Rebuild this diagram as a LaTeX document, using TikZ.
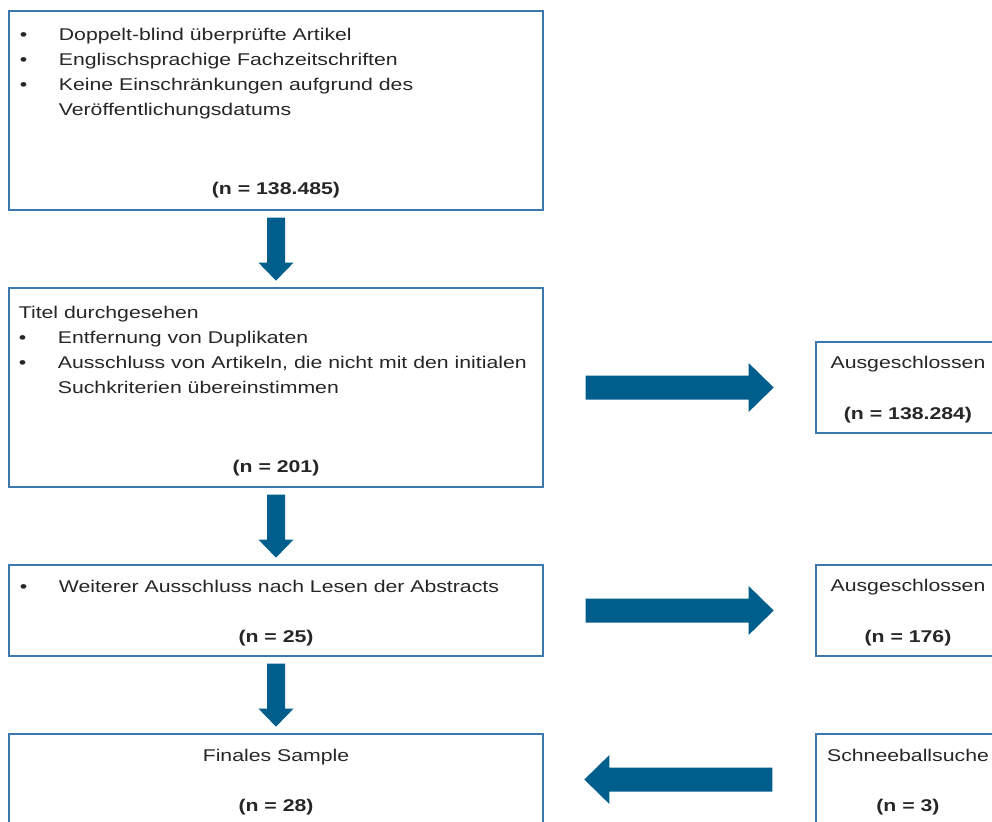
\documentclass[tikz,border=0pt]{standalone}
\usepackage{fontspec}
\setmainfont{Liberation Sans}
\usetikzlibrary{calc}
\definecolor{frame}{HTML}{3A78AD}
\definecolor{arrowblue}{HTML}{005E8C}
\definecolor{ink}{HTML}{262626}
% bullet with hanging indent (before horizontal stretch of the text)
\newcommand\bul{\makebox[15.6pt][l]{•}}
\newcommand\hang{\hspace*{15.6pt}}
\begin{document}
\begin{tikzpicture}[x=0.5pt,y=-0.5pt,
  box/.style={draw=frame, line width=0.65pt, rectangle, inner sep=0pt},
  wide/.style={xscale=1.25},
  body/.style={wide, text=ink, font=\fontsize{8.5}{12.5}\selectfont, inner sep=0pt, align=left, anchor=north west},
  headline/.style={wide, text=ink, font=\fontsize{8.5}{12.5}\selectfont, inner sep=0pt, anchor=base},
  ntext/.style={wide, text=ink, font=\fontsize{8.5}{12.5}\selectfont\bfseries, inner sep=0pt, anchor=base},
  pics/downarrow/.style={code={
    \fill[arrowblue] (-9,0) -- (9,0) -- (9,45) -- (17.5,45) -- (0,63)
      -- (-17.5,45) -- (-9,45) -- cycle;}},
  pics/rightarrow/.style={code={
    \fill[arrowblue] (0,-12) -- (163,-12) -- (163,-24.5) -- (188,0)
      -- (163,24.5) -- (163,12) -- (0,12) -- cycle;}},
  pics/leftarrow/.style={code={
    \fill[arrowblue] (0,-12) -- (-163,-12) -- (-163,-24.5) -- (-188,0)
      -- (-163,24.5) -- (-163,12) -- (0,12) -- cycle;}},
]
\useasboundingbox (0,0) rectangle (992,821);
\clip (0,0) rectangle (992,821);

% main column
\node[box, minimum width=267pt, minimum height=99.5pt] (b1) at (276,110.5) {};
\node[box, minimum width=267pt, minimum height=99.5pt] (b2) at (276,387.5) {};
\node[box, minimum width=267pt, minimum height=45.5pt] (b3) at (276,610.5) {};
\node[box, minimum width=267pt, minimum height=45.5pt] (b4) at (276,779.5) {};

% side column
\node[box, minimum width=92pt, minimum height=45.5pt] (r1) at (908,387.5) {};
\node[box, minimum width=92pt, minimum height=45.5pt] (r2) at (908,610.5) {};
\node[box, minimum width=92pt, minimum height=45.5pt] (r3) at (908,779.5) {};

% box texts
\node[body] (t1) at ($(b1.north west)+(11,17)$)
  {\bul Doppelt-blind überprüfte Artikel\\
   \bul Englischsprachige Fachzeitschriften\\
   \bul Keine Einschränkungen aufgrund des\\
   \hang Veröffentlichungsdatums};
\node[ntext] (n1) at ($(b1.south)+(0,-16)$) {(n = 138.485)};

\node[body] (t2) at ($(b2.north west)+(10,18)$)
  {Titel durchgesehen\\
   \bul Entfernung von Duplikaten\\
   \bul Ausschluss von Artikeln, die nicht mit den initialen\\
   \hang Suchkriterien übereinstimmen};
\node[ntext] (n2) at ($(b2.south)+(0,-15)$) {(n = 201)};

\node[body] (t3) at ($(b3.north west)+(11,15)$)
  {\bul Weiterer Ausschluss nach Lesen der Abstracts};
\node[ntext] (n3) at ($(b3.south)+(0,-14)$) {(n = 25)};

\node[headline] (t4) at ($(b4.north)+(0,28)$) {Finales Sample};
\node[ntext] (n4) at ($(b4.north)+(0,78)$) {(n = 28)};

\node[headline] (s1) at ($(r1.north)+(0,27)$) {Ausgeschlossen};
\node[ntext] (m1) at ($(r1.north)+(0,78)$) {(n = 138.284)};
\node[headline] (s2) at ($(r2.north)+(0,27)$) {Ausgeschlossen};
\node[ntext] (m2) at ($(r2.north)+(0,78)$) {(n = 176)};
\node[headline] (s3) at ($(r3.north)+(0,28)$) {Schneeballsuche};
\node[ntext] (m3) at ($(r3.north)+(0,78)$) {(n = 3)};

% block arrows between boxes
\pic at ($(b1.south)+(0,7)$) {downarrow};
\pic at ($(b2.south)+(0,7)$) {downarrow};
\pic at ($(b3.south)+(0,7)$) {downarrow};
\pic at ($(b2.east)+(42,0)$) {rightarrow};
\pic at ($(b3.east)+(42,0)$) {rightarrow};
\pic at ($(r3.west)+(-43,0)$) {leftarrow};
\end{tikzpicture}
\end{document}
